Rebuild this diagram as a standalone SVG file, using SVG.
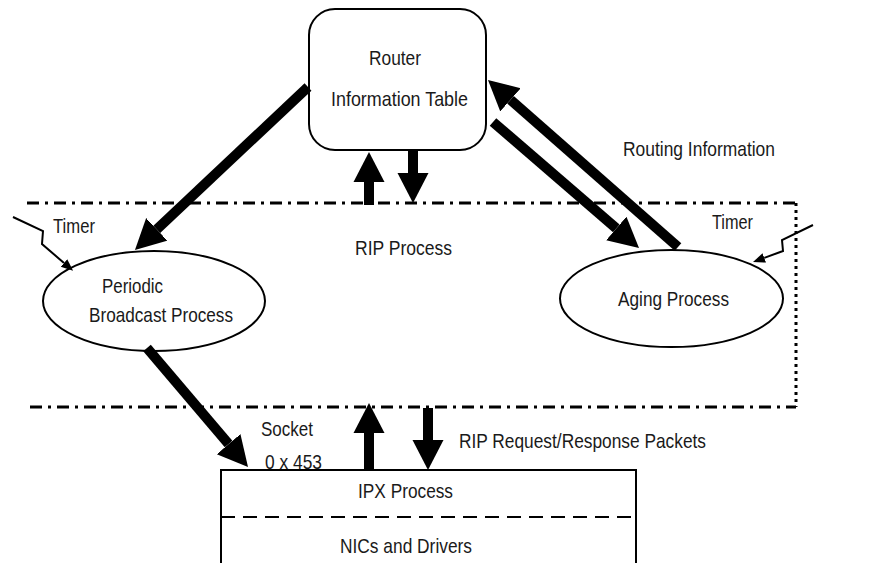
<svg xmlns="http://www.w3.org/2000/svg" width="874" height="563" viewBox="0 0 874 563">
<style>
text{font-family:"Liberation Sans",Arial,sans-serif;font-size:21px;fill:#1a1a1a}
.box{fill:#fff;stroke:#000;stroke-width:2}
.thick{stroke:#000;stroke-width:10;fill:none}
.thin{stroke:#000;stroke-width:2;fill:none}
.dd{stroke:#000;stroke-width:3;stroke-dasharray:12 6 3 6;fill:none}
.dot{stroke:#000;stroke-width:3;stroke-dasharray:3 4;fill:none}
.div{stroke:#000;stroke-width:2;stroke-dasharray:14 8;fill:none}
</style>
<defs>
<marker id="big" markerUnits="userSpaceOnUse" markerWidth="31" markerHeight="32" viewBox="0 -16 31 32" refX="0" refY="0" orient="auto"><path d="M0,-15.5 L30,0 L0,15.5 z" fill="#000"/></marker>
<marker id="small" markerUnits="userSpaceOnUse" markerWidth="13" markerHeight="12" viewBox="0 -6 13 12" refX="0" refY="0" orient="auto"><path d="M0,-5 L12,0 L0,5 z" fill="#000"/></marker>
</defs>
<rect width="874" height="563" fill="#fff"/>
<g id="rip-boundary">
<line class="dd" x1="27" y1="203" x2="796" y2="203"/>
<line class="dd" x1="30" y1="407" x2="796" y2="407"/>
<line class="dot" x1="796" y1="203" x2="796" y2="407"/>
<text x="355" y="255" textLength="97" lengthAdjust="spacingAndGlyphs">RIP Process</text>
</g>
<g id="router-table">
<rect class="box" x="309" y="9" width="177" height="141" rx="26" ry="26"/>
<text x="369" y="65" textLength="52" lengthAdjust="spacingAndGlyphs">Router</text>
<text x="331" y="106" textLength="137" lengthAdjust="spacingAndGlyphs">Information Table</text>
</g>
<g id="periodic-broadcast">
<ellipse class="box" cx="154" cy="301" rx="111" ry="50"/>
<text x="102" y="293" textLength="61" lengthAdjust="spacingAndGlyphs">Periodic</text>
<text x="89" y="322" textLength="144" lengthAdjust="spacingAndGlyphs">Broadcast Process</text>
</g>
<g id="aging-process">
<ellipse class="box" cx="671.5" cy="298.5" rx="111.5" ry="48.5"/>
<text x="618" y="306" textLength="111" lengthAdjust="spacingAndGlyphs">Aging Process</text>
</g>
<g id="ipx">
<rect class="box" x="221" y="470" width="415" height="110"/>
<line class="div" x1="221" y1="517" x2="636" y2="517"/>
<text x="358" y="498" textLength="95" lengthAdjust="spacingAndGlyphs">IPX Process</text>
<text x="340" y="553" textLength="132" lengthAdjust="spacingAndGlyphs">NICs and Drivers</text>
</g>
<g id="connectors">
<line class="thick" x1="369" y1="470" x2="369" y2="433" marker-end="url(#big)"/>
<line class="thick" x1="428" y1="408" x2="428" y2="440" marker-end="url(#big)"/>
<line class="thick" x1="369" y1="205" x2="369" y2="182" marker-end="url(#big)"/>
<line class="thick" x1="413" y1="150" x2="413" y2="173" marker-end="url(#big)"/>
<line class="thick" x1="308" y1="87" x2="156.8" y2="229.4" marker-end="url(#big)"/>
<line class="thick" x1="147" y1="348" x2="228.6" y2="444.1" marker-end="url(#big)"/>
<line class="thick" x1="493" y1="122" x2="616.3" y2="228.4" marker-end="url(#big)"/>
<line class="thick" x1="678" y1="247" x2="510.5" y2="99.8" marker-end="url(#big)"/>
<polyline class="thin" points="13,217 43,231 42,244 64,263" marker-end="url(#small)"/>
<polyline class="thin" points="813,225 782,240 783,251 764.3,257.9" marker-end="url(#small)"/>
</g>
<g id="labels">
<text x="623" y="156" textLength="152" lengthAdjust="spacingAndGlyphs">Routing Information</text>
<text x="53" y="233" textLength="42" lengthAdjust="spacingAndGlyphs">Timer</text>
<text x="712" y="229" textLength="41" lengthAdjust="spacingAndGlyphs">Timer</text>
<text x="261" y="436" textLength="52" lengthAdjust="spacingAndGlyphs">Socket</text>
<text x="265" y="469" textLength="57" lengthAdjust="spacingAndGlyphs">0 x 453</text>
<text x="459" y="448" textLength="247" lengthAdjust="spacingAndGlyphs">RIP Request/Response Packets</text>
</g>
</svg>
